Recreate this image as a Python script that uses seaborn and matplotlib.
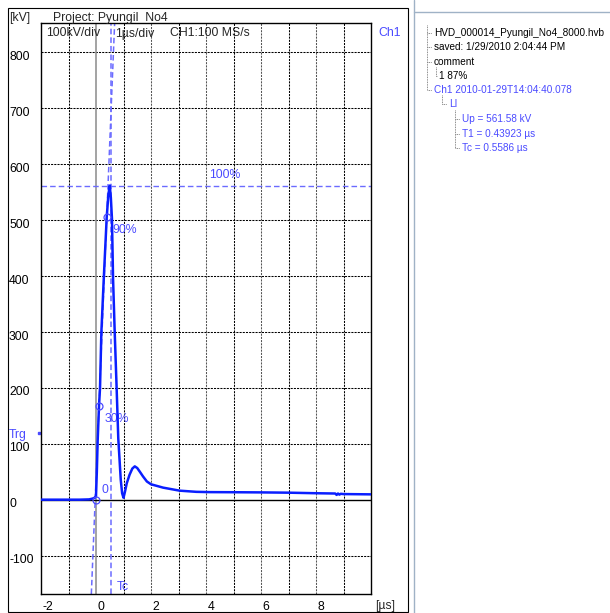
import matplotlib
matplotlib.use("Agg")
import matplotlib.pyplot as plt
import matplotlib.transforms as mtrans
from matplotlib.lines import Line2D
from matplotlib.patches import Rectangle
import numpy as np
import pandas as pd
import seaborn as sns

# ---------------- data ----------------
time_us = [-2.0, -0.6, -0.25, -0.12, -0.05, 0.0, 0.03, 0.06, 0.11, 0.146, 0.195, 0.28,
           0.39, 0.45, 0.50, 0.54, 0.58, 0.62, 0.68, 0.75, 0.81, 0.90, 0.95, 1.00,
           1.05, 1.12, 1.22, 1.32, 1.41, 1.50, 1.60, 1.71, 1.85, 2.00, 2.44, 3.04,
           3.65, 4.13, 5.0, 6.0, 7.0, 8.0, 8.7, 8.75, 8.8, 8.85, 8.9, 9.0, 10.0]
voltage_kv = [0.5, 0.5, 1.0, 2.5, 4.0, 7.0, 50.0, 105.0, 168.5, 200.0, 300.0, 393.0,
              505.4, 545.0, 561.58, 540.0, 503.0, 396.0, 300.0, 200.0, 110.0, 36.0, 12.0, 4.0,
              14.0, 30.0, 45.0, 56.0, 60.0, 57.0, 50.0, 42.0, 33.0, 28.0, 22.0, 16.6,
              14.5, 14.0, 13.8, 13.5, 13.0, 12.0, 11.5, 9.0, 11.5, 9.5, 11.0, 10.5, 10.0]

peak_kv = 561.58
tc_us = 0.5586
marker_t = [0.0, 0.11, 0.39]
marker_v = [0.0, 168.5, 505.4]
marker_labels = ["0", "30%", "90%"]
marker_offsets = [(6, 10), (6, -13), (6, -13)]
trigger_kv = 119

x_limits = (-2, 10)
y_limits = (-168, 852)
x_tick_values = [-2, 0, 2, 4, 6, 8]
y_tick_values = [-100, 0, 100, 200, 300, 400, 500, 600, 700, 800]
x_grid_values = [-1, 1, 2, 3, 4, 5, 6, 7, 8, 9]
y_grid_values = [-100, 100, 200, 300, 400, 500, 600, 700, 800]

header_texts = ["100kV/div", "1\u00b5s/div", "CH1:100 MS/s"]
tree_labels = ["HVD_000014_Pyungil_No4_8000.hvb", "saved: 1/29/2010 2:04:44 PM",
               "comment", "1 87%", "Ch1 2010-01-29T14:04:40.078", "LI",
               "Up = 561.58 kV", "T1 = 0.43923 \u00b5s", "Tc = 0.5586 \u00b5s"]
tree_levels = [0, 0, 0, 1, 0, 2, 3, 3, 3]
tree_blue = [False, False, False, False, True, True, True, True, True]

# ---------------- style ----------------
W, H = 610, 613
sns.set_style("white")
plt.rcParams['font.family'] = ['Liberation Sans', 'DejaVu Sans']
plt.rcParams['lines.scale_dashes'] = False

BLUE = "#0a1eff"
LBLUE = "#6b6bff"
TBLUE = "#4a4aff"
FS = 8.8

fig = plt.figure(figsize=(W / 100, H / 100), dpi=100)
fig.patch.set_facecolor("white")

def fx(px):
    return px / W

def fy(py):
    return 1 - py / H

ax = fig.add_axes([fx(41), fy(594), (371 - 41) / W, (594 - 23) / H])
ax.set_facecolor("white")
ax.set_xlim(*x_limits)
ax.set_ylim(*y_limits)

# grid
grid_ls = (0, (1.5, 0.8))
for xv in x_grid_values:
    ax.axvline(xv, color="#555555" if xv % 2 == 0 else "black", lw=0.75, ls=grid_ls, zorder=1)
for yv in y_grid_values:
    ax.axhline(yv, color="black", lw=0.75, ls=grid_ls, zorder=1)
ax.axvline(0, color="#8a8a8a", lw=1.1, zorder=1)
ax.axhline(0, color="black", lw=1.0, zorder=1)

# measurement helper lines
dash = (0, (4.0, 2.2))
ax.axhline(peak_kv, color=LBLUE, lw=1.0, ls=dash, zorder=2)
ax.axvline(tc_us, color=LBLUE, lw=1.1, ls=dash, zorder=2)
slope = (marker_v[2] - marker_v[1]) / (marker_t[2] - marker_t[1])
fl_t = [marker_t[1] + (y_limits[0] - marker_v[1]) / slope,
        marker_t[1] + (y_limits[1] - marker_v[1]) / slope]
ax.plot(fl_t, list(y_limits), color=LBLUE, lw=1.1, ls=dash, zorder=2)

# waveform
df = pd.DataFrame({"t": time_us, "u": voltage_kv})
sns.lineplot(data=df, x="t", y="u", ax=ax, color=BLUE, lw=1.8, sort=False,
             estimator=None, zorder=4)
ax.plot(marker_t, marker_v, ls="none", marker="o", ms=5, mfc="none",
        mec=TBLUE, mew=0.9, zorder=5)
for t, v, lab, off in zip(marker_t, marker_v, marker_labels, marker_offsets):
    ax.annotate(lab, (t, v), xytext=off, textcoords="offset pixels",
                ha="left", va="center", color=TBLUE, fontsize=FS)

btr = mtrans.blended_transform_factory(ax.transAxes, ax.transData)
ax.annotate("100%", (0.51, peak_kv), xycoords=btr, xytext=(0, 10.5),
            textcoords="offset pixels", ha="left", va="center", color=TBLUE, fontsize=FS)
btr2 = mtrans.blended_transform_factory(ax.transData, ax.transAxes)
ax.annotate("Tc", (tc_us, 0), xycoords=btr2, xytext=(5.5, 7.5),
            textcoords="offset pixels", ha="left", va="center", color=TBLUE, fontsize=FS)

# trigger marker
ax.plot([x_limits[0]], [trigger_kv], marker="s", ms=1.6, color=TBLUE,
        transform=ax.transData + mtrans.ScaledTranslation(-2 / 100, 0, fig.dpi_scale_trans),
        clip_on=False)
ax.annotate("Trg", (0, trigger_kv), xycoords=btr, xytext=(-32, -2),
            textcoords="offset pixels", ha="left", va="center", color=TBLUE, fontsize=FS)

# ticks
ax.set_xticks(x_tick_values)
ax.set_xticklabels([str(v) for v in x_tick_values])
ax.set_yticks(y_tick_values)
ax.set_yticklabels([str(v) for v in y_tick_values])
ax.tick_params(axis="both", length=0, labelsize=FS, colors="black")
ax.tick_params(axis="x", pad=5.2)
ax.tick_params(axis="y", pad=23.0)
for lab in ax.get_xticklabels():
    lab.set_horizontalalignment("left")
    lab.set_transform(lab.get_transform() + mtrans.ScaledTranslation(1.8 / 100, 0, fig.dpi_scale_trans))
for lab in ax.get_yticklabels():
    lab.set_horizontalalignment("left")
    lab.set_transform(lab.get_transform() + mtrans.ScaledTranslation(0, -3 / 100, fig.dpi_scale_trans))
ax.set_xlabel("")
ax.set_ylabel("")
for sp in ax.spines.values():
    sp.set_color("black")
    sp.set_linewidth(1.0)

# header text inside / above plot
fig.text(fx(9), fy(21), "[kV]", fontsize=FS, va="baseline", ha="left")
fig.text(fx(52.7), fy(21), "Project: Pyungil  No4", fontsize=FS, va="baseline", ha="left")
for txt, px in zip(header_texts, [46, 115, 170]):
    fig.text(fx(px), fy(36.5), txt, fontsize=FS, va="baseline", ha="left")
fig.text(fx(378), fy(36.5), "Ch1", fontsize=FS, va="baseline", ha="left", color=TBLUE)
fig.text(fx(375), fy(609.5), "[\u00b5s]", fontsize=FS, va="baseline", ha="left")

# outer frame and panel separators
fig.add_artist(Rectangle((fx(8), fy(611.5)), (408 - 8) / W, (611.5 - 8) / H,
                         transform=fig.transFigure, fill=False, ec="black", lw=0.8))
fig.add_artist(Line2D([fx(414), fx(414)], [0, 1], transform=fig.transFigure,
                      color="#9fb2c6", lw=1.0))
fig.add_artist(Line2D([fx(414), 1], [fy(12), fy(12)], transform=fig.transFigure,
                      color="#9fb2c6", lw=1.0))

# tree panel
tree_y = [32.7, 47.3, 61.7, 76.0, 90.0, 104.3, 118.7, 133.7, 148.0]
level_x = {0: 434, 1: 439, 2: 449, 3: 461.7}
conn_x = {0: 426.7, 1: 436, 2: 441.7, 3: 455}
dot = (0, (0.6, 0.6))
gc = "#7a7a7a"
def fline(x0, y0, x1, y1):
    fig.add_artist(Line2D([fx(x0), fx(x1)], [fy(y0), fy(y1)], transform=fig.transFigure,
                          color=gc, lw=0.7, ls=dot))
fline(conn_x[0], 25, conn_x[0], tree_y[4])
fline(conn_x[1], 67, conn_x[1], tree_y[3])
fline(conn_x[2], 95, conn_x[2], tree_y[5])
fline(conn_x[3], 110, conn_x[3], tree_y[8])
for lab, lev, blue, yy in zip(tree_labels, tree_levels, tree_blue, tree_y):
    fline(conn_x[lev], yy, level_x[lev] - 2, yy)
    fig.text(fx(level_x[lev]), fy(yy), lab, fontsize=7.2, ha="left", va="center",
             color=TBLUE if blue else "black")

fig.savefig("out.png", dpi=100, facecolor="white")
